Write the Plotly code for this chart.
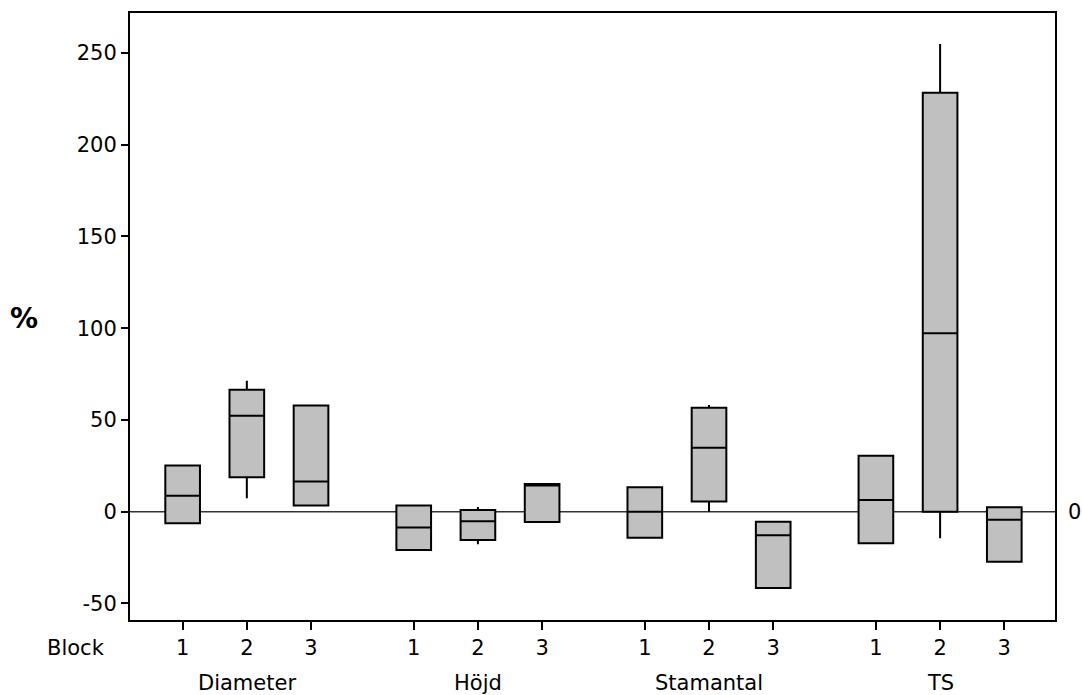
import plotly.graph_objects as go

groups = ["Diameter", "Höjd", "Stamantal", "TS"]
blocks = ["1", "2", "3"]

# per box, order: Diameter1..3, Höjd1..3, Stamantal1..3, TS1..3
upper = [25.1, 71.3, 57.8, 3.3, 2.6, 15.1, 13.3, 58.2, -5.5, 30.5, 254.9, 2.4]
q3 = [25.1, 66.5, 57.8, 3.3, 0.9, 15.1, 13.3, 56.7, -5.5, 30.5, 228.3, 2.4]
median = [8.7, 52.3, 16.4, -8.7, -5.2, 14.3, 0.0, 34.9, -12.9, 6.4, 97.3, -4.4]
q1 = [-6.3, 18.8, 3.3, -20.9, -15.4, -5.6, -14.2, 5.5, -41.6, -17.2, 0.0, -27.3]
lower = [-6.3, 7.3, 3.3, -20.9, -17.8, -5.6, -14.2, 0.0, -41.6, -17.2, -14.5, -27.3]

GROUP_STEP = 3.6
xpos = [g * GROUP_STEP + b for g in range(len(groups)) for b in range(len(blocks))]
xlabels = [blk for g in groups for blk in blocks]

W, H = 1083, 695
ML, MR, MT, MB = 130, 28, 13, 75
PW, PH = W - ML - MR, H - MT - MB

fig = go.Figure()
fig.add_trace(go.Box(
    x=xpos, q1=q1, median=median, q3=q3,
    lowerfence=lower, upperfence=upper,
    width=0.54, whiskerwidth=0,
    fillcolor="#c0c0c0",
    line=dict(color="black", width=2),
    boxpoints=False, showlegend=False,
))

fig.add_shape(type="line", xref="paper", x0=0, x1=1, yref="y", y0=0, y1=0,
              line=dict(color="#333333", width=1.5), layer="below")

font = dict(family="DejaVu Sans, Verdana, sans-serif", size=21, color="black")

fig.update_layout(
    width=W, height=H,
    margin=dict(l=ML, r=MR, t=MT, b=MB, autoexpand=False),
    plot_bgcolor="white", paper_bgcolor="white",
    font=font,
    xaxis=dict(
        range=[-0.82, 13.59], tickmode="array", tickvals=xpos, ticktext=xlabels,
        ticks="outside", ticklen=8, tickwidth=1.5, tickcolor="black",
        showline=True, linecolor="black", linewidth=2, mirror=True,
        showgrid=False, zeroline=False, automargin=False,
    ),
    yaxis=dict(
        range=[-59.05, 271.8], tickvals=[-50, 0, 50, 100, 150, 200, 250],
        ticktext=["-50", "0", "50", "100", "150", "200", "250"],
        ticks="outside", ticklen=7, tickwidth=1.5, tickcolor="black",
        showline=True, linecolor="black", linewidth=2, mirror=True,
        showgrid=False, zeroline=False, automargin=False,
    ),
)

for g, name in enumerate(groups):
    fig.add_annotation(x=g * GROUP_STEP + 1, y=-(683 - (H - MB)) / PH, xref="x", yref="paper",
                       text=name, showarrow=False, font=font, yanchor="middle")

fig.add_annotation(x=(76 - ML) / PW, y=-(648 - (H - MB)) / PH, xref="paper", yref="paper",
                   text="Block", showarrow=False, font=font,
                   xanchor="center", yanchor="middle")

fig.add_annotation(x=(24 - ML) / PW, y=((H - MB) - 318) / PH,
                   xref="paper", yref="paper", text="<b>%</b>", showarrow=False,
                   font=dict(family=font["family"], size=28, color="black"),
                   xanchor="center", yanchor="middle")
fig.add_annotation(x=(1066 - ML) / PW, y=0, xref="paper", yref="y", text="0",
                   showarrow=False, font=font, xanchor="left", yanchor="middle")

fig.write_html("out.html", config={"displayModeBar": False},
               post_script="document.body.style.margin='0';document.body.style.overflow='hidden';")
